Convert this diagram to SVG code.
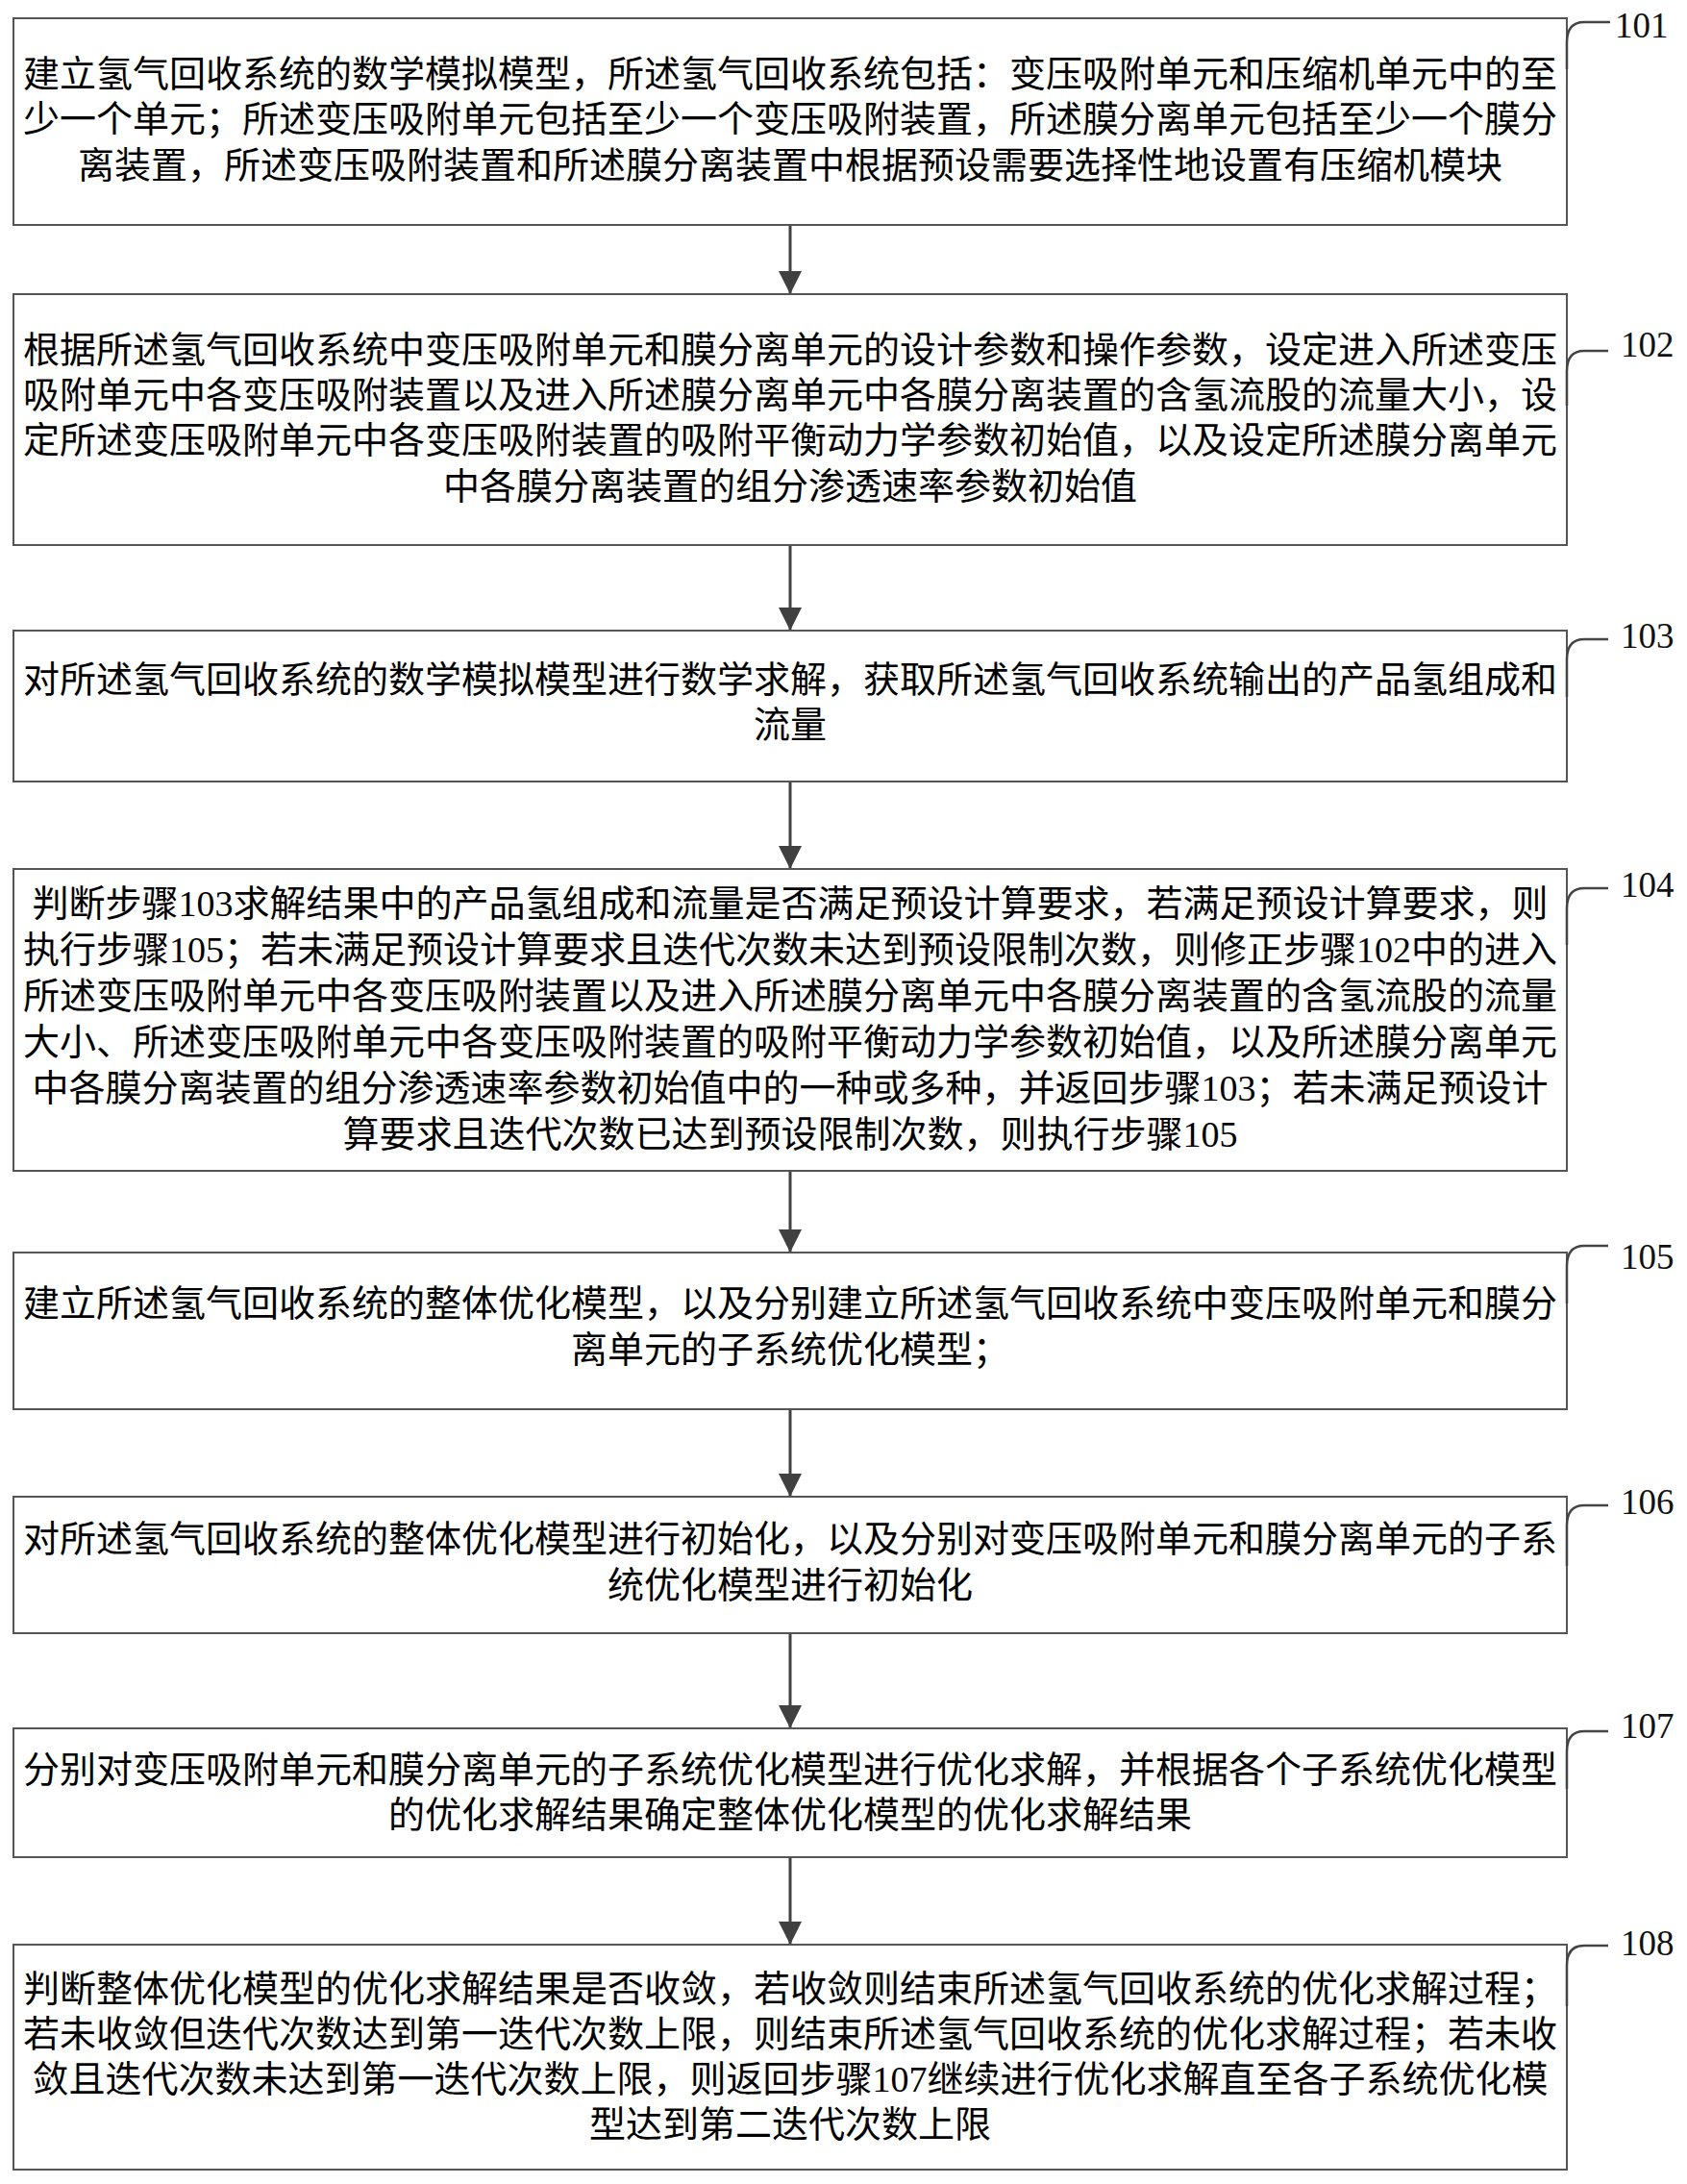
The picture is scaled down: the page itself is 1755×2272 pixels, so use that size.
<svg xmlns="http://www.w3.org/2000/svg" width="1755" height="2272" viewBox="0 0 1755 2272">
<style>
.box{fill:#ffffff;stroke:#555555;stroke-width:2}
.t{font-family:"Liberation Serif","Noto Sans CJK SC",serif;font-size:38px;fill:#000000;text-anchor:middle}
.lbl{font-family:"Liberation Serif",serif;font-size:37px;fill:#111111}
.br{fill:none;stroke:#444444;stroke-width:2.5}
.arr{fill:none;stroke:#404040;stroke-width:3}
</style>
<defs>
<marker id="ah" markerUnits="userSpaceOnUse" viewBox="0 0 24 24" markerWidth="24" markerHeight="24" refX="24" refY="12" orient="auto">
<path d="M0,0 L24,12 L0,24 z" fill="#404040"/>
</marker>
</defs>
<rect width="1755" height="2272" fill="#ffffff"/>

<g id="connectors">
<path class="arr" d="M822,234 V306" marker-end="url(#ah)"/>
<path class="arr" d="M822,567 V656" marker-end="url(#ah)"/>
<path class="arr" d="M822,813 V904" marker-end="url(#ah)"/>
<path class="arr" d="M822,1218 V1303" marker-end="url(#ah)"/>
<path class="arr" d="M822,1466 V1557" marker-end="url(#ah)"/>
<path class="arr" d="M822,1699 V1798" marker-end="url(#ah)"/>
<path class="arr" d="M822,1932 V2023" marker-end="url(#ah)"/>
</g>

<g id="step101">
<rect class="box" x="14" y="19" width="1616" height="215"/>
<text class="t" x="822" y="90">建立氢气回收系统的数学模拟模型，所述氢气回收系统包括：变压吸附单元和压缩机单元中的至</text>
<text class="t" x="822" y="137">少一个单元；所述变压吸附单元包括至少一个变压吸附装置，所述膜分离单元包括至少一个膜分</text>
<text class="t" x="822" y="185">离装置，所述变压吸附装置和所述膜分离装置中根据预设需要选择性地设置有压缩机模块</text>
<path class="br" d="M1675,23 H1648 C1636,23 1630,30 1630,44 V72"/>
<text class="lbl" x="1680" y="39">101</text>
</g>

<g id="step102">
<rect class="box" x="14" y="306" width="1616" height="261"/>
<text class="t" x="822" y="377">根据所述氢气回收系统中变压吸附单元和膜分离单元的设计参数和操作参数，设定进入所述变压</text>
<text class="t" x="822" y="424">吸附单元中各变压吸附装置以及进入所述膜分离单元中各膜分离装置的含氢流股的流量大小，设</text>
<text class="t" x="822" y="471">定所述变压吸附单元中各变压吸附装置的吸附平衡动力学参数初始值，以及设定所述膜分离单元</text>
<text class="t" x="822" y="519">中各膜分离装置的组分渗透速率参数初始值</text>
<path class="br" d="M1673,365 H1648 C1636,365 1630,372 1630,386 V422"/>
<text class="lbl" x="1686" y="371">102</text>
</g>

<g id="step103">
<rect class="box" x="14" y="656" width="1616" height="157"/>
<text class="t" x="822" y="720">对所述氢气回收系统的数学模拟模型进行数学求解，获取所述氢气回收系统输出的产品氢组成和</text>
<text class="t" x="822" y="767">流量</text>
<path class="br" d="M1673,665 H1648 C1636,665 1630,672 1630,686 V725"/>
<text class="lbl" x="1686" y="674">103</text>
</g>

<g id="step104">
<rect class="box" x="14" y="904" width="1616" height="314"/>
<text class="t" x="822" y="953">判断步骤103求解结果中的产品氢组成和流量是否满足预设计算要求，若满足预设计算要求，则</text>
<text class="t" x="822" y="1001">执行步骤105；若未满足预设计算要求且迭代次数未达到预设限制次数，则修正步骤102中的进入</text>
<text class="t" x="822" y="1049">所述变压吸附单元中各变压吸附装置以及进入所述膜分离单元中各膜分离装置的含氢流股的流量</text>
<text class="t" x="822" y="1097">大小、所述变压吸附单元中各变压吸附装置的吸附平衡动力学参数初始值，以及所述膜分离单元</text>
<text class="t" x="822" y="1145">中各膜分离装置的组分渗透速率参数初始值中的一种或多种，并返回步骤103；若未满足预设计</text>
<text class="t" x="822" y="1193">算要求且迭代次数已达到预设限制次数，则执行步骤105</text>
<path class="br" d="M1673,924 H1648 C1636,924 1630,931 1630,945 V983"/>
<text class="lbl" x="1686" y="933">104</text>
</g>

<g id="step105">
<rect class="box" x="14" y="1303" width="1616" height="163"/>
<text class="t" x="822" y="1369">建立所述氢气回收系统的整体优化模型，以及分别建立所述氢气回收系统中变压吸附单元和膜分</text>
<text class="t" x="822" y="1417">离单元的子系统优化模型；</text>
<path class="br" d="M1673,1296 H1648 C1636,1296 1630,1303 1630,1317 V1356"/>
<text class="lbl" x="1686" y="1320">105</text>
</g>

<g id="step106">
<rect class="box" x="14" y="1557" width="1616" height="142"/>
<text class="t" x="822" y="1614">对所述氢气回收系统的整体优化模型进行初始化，以及分别对变压吸附单元和膜分离单元的子系</text>
<text class="t" x="822" y="1662">统优化模型进行初始化</text>
<path class="br" d="M1673,1566 H1648 C1636,1566 1630,1573 1630,1587 V1629"/>
<text class="lbl" x="1686" y="1575">106</text>
</g>

<g id="step107">
<rect class="box" x="14" y="1798" width="1616" height="134"/>
<text class="t" x="822" y="1854">分别对变压吸附单元和膜分离单元的子系统优化模型进行优化求解，并根据各个子系统优化模型</text>
<text class="t" x="822" y="1901">的优化求解结果确定整体优化模型的优化求解结果</text>
<path class="br" d="M1673,1801 H1648 C1636,1801 1630,1808 1630,1822 V1861"/>
<text class="lbl" x="1686" y="1808">107</text>
</g>

<g id="step108">
<rect class="box" x="14" y="2023" width="1616" height="234"/>
<text class="t" x="822" y="2082">判断整体优化模型的优化求解结果是否收敛，若收敛则结束所述氢气回收系统的优化求解过程；</text>
<text class="t" x="822" y="2129">若未收敛但迭代次数达到第一迭代次数上限，则结束所述氢气回收系统的优化求解过程；若未收</text>
<text class="t" x="822" y="2176">敛且迭代次数未达到第一迭代次数上限，则返回步骤107继续进行优化求解直至各子系统优化模</text>
<text class="t" x="822" y="2223">型达到第二迭代次数上限</text>
<path class="br" d="M1673,2024 H1648 C1636,2024 1630,2031 1630,2045 V2087"/>
<text class="lbl" x="1686" y="2034">108</text>
</g>
</svg>
